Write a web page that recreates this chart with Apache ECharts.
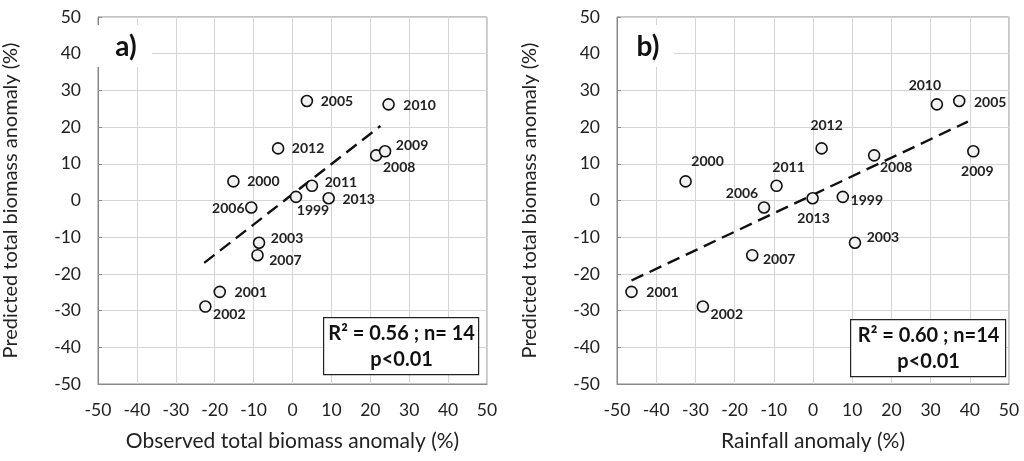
<!DOCTYPE html>
<html lang="en">

<head>
    <meta charset="UTF-8">
    <title>Biomass anomaly</title>
    <style>
        html,
        body {
            margin: 0;
            padding: 0;
            width: 100%;
            height: 100%;
            background-color: #fff;
        }

        #chart {
            width: 1024px;
            height: 461px;
        }
    </style>
</head>

<body>
    <div id="chart"></div>
    <script src="https://cdn.jsdelivr.net/npm/echarts@6/dist/echarts.min.js"></script>
    <script>
        // years shown on the points (no 2004)
        const years = [1999, 2000, 2001, 2002, 2003, 2005, 2006, 2007, 2008, 2009, 2010, 2011, 2012, 2013]
        // predicted total biomass anomaly (%), same for both panels
        const predicted = [1.0, 5.2, -24.9, -28.9, -11.5, 27.1, -1.9, -14.9, 12.3, 13.4, 26.2, 4.0, 14.2, 0.6]
        // panel a) observed total biomass anomaly (%)
        const observed = [0.9, -15.2, -18.7, -22.4, -8.6, 3.7, -10.6, -9.0, 21.5, 23.8, 24.7, 5.0, -3.7, 9.3]
        // panel b) rainfall anomaly (%)
        const rainfall = [7.6, -32.5, -46.3, -28.1, 10.7, 37.3, -12.5, -15.5, 15.6, 40.9, 31.6, -9.3, 2.2, -0.1]
        // trend line ends
        const trendA = [[-22.7, -17.0], [22.6, 20.3]]
        const trendB = [[-46.3, -21.8], [39.5, 21.5]]
        const ticks = [-50, -40, -30, -20, -10, 0, 10, 20, 30, 40, 50]

        // where each year label sits, relative to its point
        const labelOffA = [[17, 14], [30, 0], [31, 1], [24, 8], [28, -4], [30, 0], [-23, 1], [28, 5], [23, 12], [27, -6], [31, 1], [29, -3], [30, 0], [30, 1]]
        const labelOffB = [[24, 4], [22, -20], [31, 1], [24, 8], [28, -5], [31, 1], [-22, -14], [27, 4], [22, 12], [4, 20], [-12, -19], [12, -18], [5, -23], [1, 20]]

        const font = 'Lato, "Open Sans", sans-serif'

        function points(xs, offs) {
            return years.map((yr, i) => ({
                value: [xs[i], predicted[i], yr],
                label: { offset: offs[i] }
            }))
        }

        function xAxis(idx, name) {
            return {
                gridIndex: idx, type: 'value', min: ticks[0], max: ticks[ticks.length - 1], interval: 10,
                name: name, nameLocation: 'middle', nameGap: 47,
                nameTextStyle: { fontFamily: font, fontSize: 21, color: '#222' },
                axisLine: { show: true, onZero: false, lineStyle: { color: '#888' } },
                axisTick: { show: false },
                axisLabel: { fontFamily: font, fontSize: 17.5, color: '#222', margin: 17 },
                splitLine: { show: true, lineStyle: { color: '#d4d4d4' } }
            }
        }

        function yAxis(idx) {
            return {
                gridIndex: idx, type: 'value', min: ticks[0], max: ticks[ticks.length - 1], interval: 10,
                name: 'Predicted total biomass anomaly (%)', nameLocation: 'middle', nameGap: 77, nameRotate: 90,
                nameTextStyle: { fontFamily: font, fontSize: 20, color: '#222' },
                axisLine: { show: true, onZero: false, lineStyle: { color: '#888' } },
                axisTick: { show: true, inside: true, length: 4, lineStyle: { color: '#888' } },
                axisLabel: { fontFamily: font, fontSize: 17.5, color: '#222', margin: 17 },
                splitLine: { show: true, lineStyle: { color: '#d4d4d4' } }
            }
        }

        function scatter(idx, xs, offs) {
            return {
                type: 'scatter', xAxisIndex: idx, yAxisIndex: idx,
                data: points(xs, offs),
                symbol: 'circle', symbolSize: 11, z: 5,
                itemStyle: { color: '#f2f2f2', borderColor: '#111', borderWidth: 1.6, opacity: 1 },
                label: {
                    show: true, position: 'inside', align: 'center', verticalAlign: 'middle',
                    formatter: p => p.value[2],
                    fontFamily: font, fontSize: 14, fontWeight: 'bold', color: '#222'
                }
            }
        }

        function trend(idx, pts) {
            return {
                type: 'line', xAxisIndex: idx, yAxisIndex: idx, data: pts,
                symbol: 'none', z: 4, silent: true,
                lineStyle: { color: '#111', width: 2.4, type: [13, 7] }
            }
        }

        function statBox(x, y, line1) {
            return {
                type: 'group', left: x, top: y, z: 100,
                children: [
                    { type: 'rect', z: 100, shape: { x: 0, y: 0, width: 155, height: 57 }, style: { fill: '#fff', stroke: '#222', lineWidth: 1.2 } },
                    { type: 'text', z: 101, x: 78, y: 16, style: { text: line1, fontFamily: font, fontSize: 20, fontWeight: 'bold', fill: '#111', align: 'center', verticalAlign: 'middle' } },
                    { type: 'text', z: 101, x: 78, y: 42, style: { text: 'p<0.01', fontFamily: font, fontSize: 20, fontWeight: 'bold', fill: '#111', align: 'center', verticalAlign: 'middle' } }
                ]
            }
        }

        function panelTag(x, y, tag) {
            return {
                type: 'group', left: x, top: y, z: 100,
                children: [
                    { type: 'rect', z: 100, shape: { x: 0, y: 0, width: 56, height: 42 }, style: { fill: '#fff' } },
                    { type: 'text', z: 101, x: 30, y: 22, style: { text: tag, fontFamily: font, fontSize: 28, fontWeight: 'bold', fill: '#111', align: 'center', verticalAlign: 'middle' } }
                ]
            }
        }

        const chart = echarts.init(document.getElementById('chart'))
        chart.setOption({
            animation: false,
            grid: [
                { left: 95, top: 17, width: 392, height: 367, show: true, borderColor: '#888', borderWidth: 1 },
                { left: 617, top: 17, width: 392, height: 367, show: true, borderColor: '#888', borderWidth: 1 }
            ],
            xAxis: [xAxis(0, 'Observed total biomass anomaly (%)'), xAxis(1, 'Rainfall anomaly (%)')],
            yAxis: [yAxis(0), yAxis(1)],
            series: [
                trend(0, trendA),
                scatter(0, observed, labelOffA),
                trend(1, trendB),
                scatter(1, rainfall, labelOffB)
            ],
            graphic: [
                panelTag(96, 25, 'a)'),
                panelTag(618, 25, 'b)'),
                statBox(323, 317, 'R² = 0.56 ; n= 14'),
                statBox(850, 319, 'R² = 0.60 ; n=14')
            ]
        })
    </script>
</body>

</html>
